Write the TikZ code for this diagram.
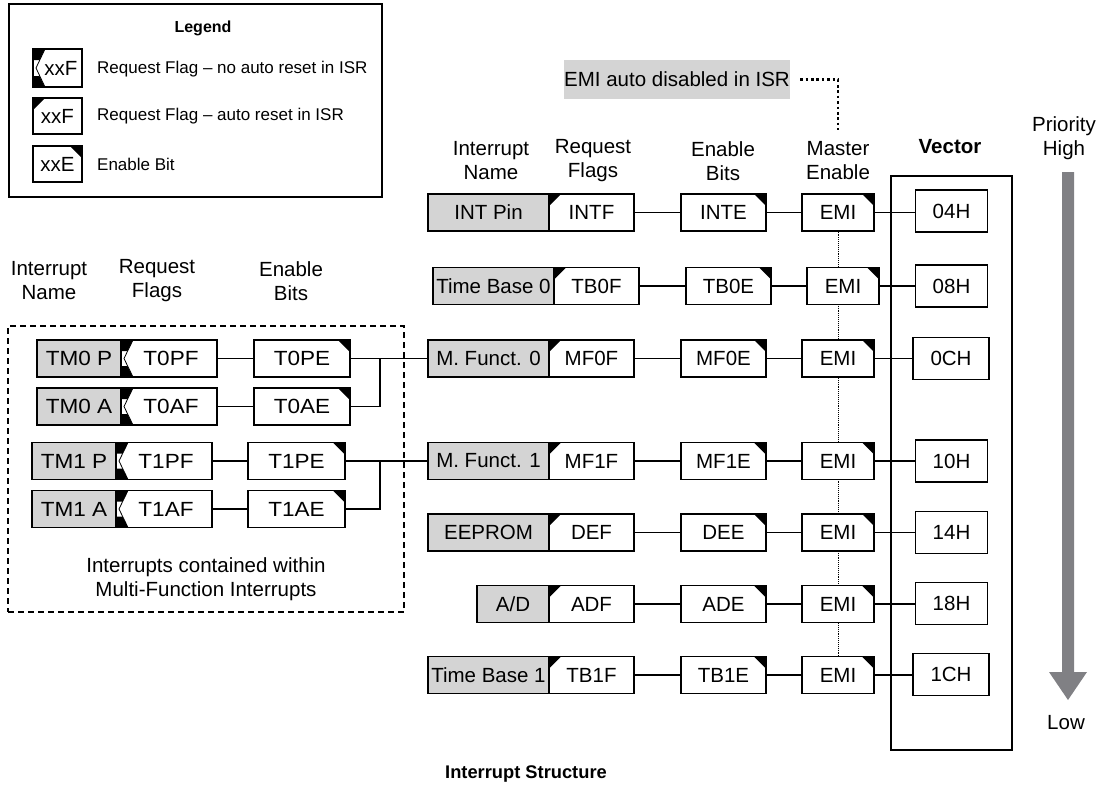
\documentclass[tikz,border=0pt]{standalone}
\usepackage{fontspec}
\setmainfont{Liberation Sans}
\newfontfamily\widefont[FakeStretch=1.1]{Liberation Sans}
\usetikzlibrary{backgrounds,calc}
\definecolor{namegray}{RGB}{212,212,212}
\definecolor{arrowgray}{RGB}{128,128,132}
\newcommand\mainfs{\fontsize{20.5}{24}\selectfont}
\newcommand\widefs{\widefont\fontsize{20.5}{24}\selectfont}
\newcommand\legfs{\fontsize{17}{20}\selectfont}
\begin{document}
\begin{tikzpicture}[x=1pt,y=-1pt,
  bx/.style={draw, line width=1.2pt, inner sep=0pt, minimum height=37pt, font=\mainfs},
  namebox/.style={bx, fill=namegray},
  flagA/.style={bx, fill=white, path picture={\fill[black] (path picture bounding box.north west) -- ++(12,0) -- ++(-12,12) -- cycle;}},
  flagN/.style={bx, fill=white, path picture={
     \fill[black] (path picture bounding box.north west) -- ++(12,0) -- ++(-5.5,11) -- ++(-6.5,0) -- cycle;
     \fill[black] (path picture bounding box.south west) -- ++(12,0) -- ++(-5.5,-11) -- ++(-6.5,0) -- cycle;
     \draw[black, line width=0.8pt] ($(path picture bounding box.north west)+(12,0)$) -- ($(path picture bounding box.west)+(3,0)$) -- ($(path picture bounding box.south west)+(12,0)$);}},
  enbox/.style={bx, fill=white, path picture={\fill[black] (path picture bounding box.north east) -- ++(-12,0) -- ++(12,12) -- cycle;}},
  vecbox/.style={bx, fill=white, minimum height=42pt},
  link/.style={line width=1.2pt},
  hdr/.style={align=center, font=\mainfs, inner sep=0pt},
  wide/.style={font=\widefs},
]
\useasboundingbox (0,0) rectangle (1104,793);

% Legend
\node[draw, line width=1.2pt, minimum width=373pt, minimum height=193pt, inner sep=0pt] (legend) at (195.5,100.5) {};
\node[font=\bfseries\fontsize{16}{19}\selectfont] (legtitle) at (203,28) {Legend};
\node[flagN, minimum width=49pt, minimum height=38pt] (lg1) at (57.5,68) {\hspace{7pt}xxF};
\node[flagA, minimum width=49pt, minimum height=36pt] (lg2) at (57.5,116) {xxF};
\node[enbox, minimum width=49pt, minimum height=36pt] (lg3) at (57.5,164) {xxE};
\node[anchor=west, font=\legfs, inner sep=0pt] (lt1) at (97,69) {Request Flag – no auto reset in ISR};
\node[anchor=west, font=\legfs, inner sep=0pt] (lt2) at (97,116) {Request Flag – auto reset in ISR};
\node[anchor=west, font=\legfs, inner sep=0pt] (lt3) at (97,164) {Enable Bit};

% EMI note
\node[fill=namegray, font=\mainfs, minimum width=226pt, minimum height=39pt, inner sep=0pt] (note) at (677,79.5) {EMI auto disabled in ISR};
\coordinate (nd) at (838,130);
\draw[line width=2.6pt, dash pattern=on 2.6pt off 2.8pt, shorten <=10pt] (note.east) -| (nd);

% headers
\node[hdr] (h1) at (491,161) {Interrupt\\Name};
\node[hdr] (h2) at (593,161) {Request\\Flags};
\node[hdr] (h3) at (723,161) {Enable\\Bits};
\node[hdr] (h4) at (838,161) {Master\\Enable};
\node[font=\bfseries\mainfs, inner sep=0pt] (vlab) at (950,147) {Vector};
\node[hdr] (lh1) at (49,281) {Interrupt\\Name};
\node[hdr] (lh2) at (157,281) {Request\\Flags};
\node[hdr] (lh3) at (291,281) {Enable\\Bits};

% Vector outer box
\node[draw, line width=1.2pt, minimum width=121pt, minimum height=574pt, inner sep=0pt] (vec) at (951.5,463) {};

% Priority arrow
\node[hdr] (prio) at (1064,138) {Priority\\High};
\node[hdr] (low) at (1066,723) {Low};
\fill[arrowgray] (1062,172) -- (1074,172) -- (1074,672) -- (1087,672) -- (1068,700) -- (1049,672) -- (1062,672) -- cycle;

% Main rows
\node[namebox, minimum width=121pt] (n1) at (488.5,212.5) {INT Pin};
\node[flagA, minimum width=85pt] (f1) at (591.5,212.5) {INTF};
\node[enbox, minimum width=85pt] (e1) at (723.5,212.5) {INTE};
\node[enbox, minimum width=72pt] (m1) at (838,212.5) {EMI};
\node[vecbox, minimum width=72pt] (v1) at (951.5,211) {04H};

\node[namebox, minimum width=121pt] (n2) at (493.5,286) {Time Base 0};
\node[flagA, minimum width=85pt] (f2) at (596.5,286) {TB0F};
\node[enbox, minimum width=85pt] (e2) at (728.5,286) {TB0E};
\node[enbox, minimum width=72pt] (m2) at (843,286) {EMI};
\node[vecbox, minimum width=72pt] (v2) at (951.5,286) {08H};

\node[namebox, minimum width=121pt] (n3) at (488.5,358.5) {M. Funct. 0};
\node[flagA, minimum width=85pt] (f3) at (591.5,358.5) {MF0F};
\node[enbox, minimum width=85pt] (e3) at (723.5,358.5) {MF0E};
\node[enbox, minimum width=72pt] (m3) at (838,358.5) {EMI};
\node[vecbox, minimum width=76pt] (v3) at (951,358.5) {0CH};

\node[namebox, minimum width=121pt] (n4) at (488.5,461) {M. Funct. 1};
\node[flagA, minimum width=85pt] (f4) at (591.5,461) {MF1F};
\node[enbox, minimum width=85pt] (e4) at (723.5,461) {MF1E};
\node[enbox, minimum width=72pt] (m4) at (838,461) {EMI};
\node[vecbox, minimum width=72pt] (v4) at (951.5,461) {10H};

\node[namebox, minimum width=121pt] (n5) at (488.5,532.5) {EEPROM};
\node[flagA, minimum width=85pt] (f5) at (591.5,532.5) {DEF};
\node[enbox, minimum width=85pt] (e5) at (723.5,532.5) {DEE};
\node[enbox, minimum width=72pt] (m5) at (838,532.5) {EMI};
\node[vecbox, minimum width=72pt] (v5) at (951.5,532.5) {14H};

\node[namebox, minimum width=72pt] (n6) at (513,604) {A/D};
\node[flagA, minimum width=85pt] (f6) at (591.5,604) {ADF};
\node[enbox, minimum width=85pt] (e6) at (723.5,604) {ADE};
\node[enbox, minimum width=72pt] (m6) at (838,604) {EMI};
\node[vecbox, minimum width=72pt] (v6) at (951.5,603.5) {18H};

\node[namebox, minimum width=121pt] (n7) at (488.5,675) {Time Base 1};
\node[flagA, minimum width=85pt] (f7) at (591.5,675) {TB1F};
\node[enbox, minimum width=85pt] (e7) at (723.5,675) {TB1E};
\node[enbox, minimum width=72pt] (m7) at (838,675) {EMI};
\node[vecbox, minimum width=76pt] (v7) at (951,674.5) {1CH};

\foreach \i in {1,...,7}{
  \draw[link] (f\i.east) -- (e\i.west);
  \draw[link] (e\i.east) -- (m\i.west);
  \draw[link] (m\i.east) -- (m\i.east -| v\i.west);
}
\begin{scope}[on background layer]
  \draw[densely dotted, line width=0.9pt] (m1.south) -- (m1.south |- m7.north);
\end{scope}

% Left panel
\node[draw, line width=1.2pt, dash pattern=on 6pt off 4pt, minimum width=396pt, minimum height=286pt, inner sep=0pt] (mfbox) at (206,469) {};
\node[hdr] (mftext) at (206,579) {Interrupts contained within\\Multi-Function Interrupts};

\node[namebox, wide, minimum width=84pt] (a1) at (79,358.5) {TM0 P};
\node[flagN, wide, minimum width=96pt] (b1) at (169,358.5) {\hspace{4pt}T0PF};
\node[enbox, wide, minimum width=96pt] (c1) at (302,358.5) {T0PE};
\node[namebox, wide, minimum width=84pt] (a2) at (79,406.5) {TM0 A};
\node[flagN, wide, minimum width=96pt] (b2) at (169,406.5) {\hspace{4pt}T0AF};
\node[enbox, wide, minimum width=96pt] (c2) at (302,406.5) {T0AE};
\node[namebox, wide, minimum width=84pt] (a3) at (74,461) {TM1 P};
\node[flagN, wide, minimum width=96pt] (b3) at (164,461) {\hspace{4pt}T1PF};
\node[enbox, wide, minimum width=97pt] (c3) at (296.5,461) {T1PE};
\node[namebox, wide, minimum width=84pt] (a4) at (74,509) {TM1 A};
\node[flagN, wide, minimum width=96pt] (b4) at (164,509) {\hspace{4pt}T1AF};
\node[enbox, wide, minimum width=97pt] (c4) at (296.5,509) {T1AE};

\foreach \i in {1,...,4}{ \draw[link] (b\i.east) -- (c\i.west); }
\coordinate (j1) at (380,358.5);
\coordinate (j2) at (380,461);
\draw[link] (c1.east) -- (n3.west);
\draw[link] (c2.east) -| (j1);
\draw[link] (c3.east) -- (n4.west);
\draw[link] (c4.east) -| (j2);

% Title
\node[font=\bfseries\fontsize{18.3}{22}\selectfont] (title) at (526,774) {Interrupt Structure};
\end{tikzpicture}
\end{document}
